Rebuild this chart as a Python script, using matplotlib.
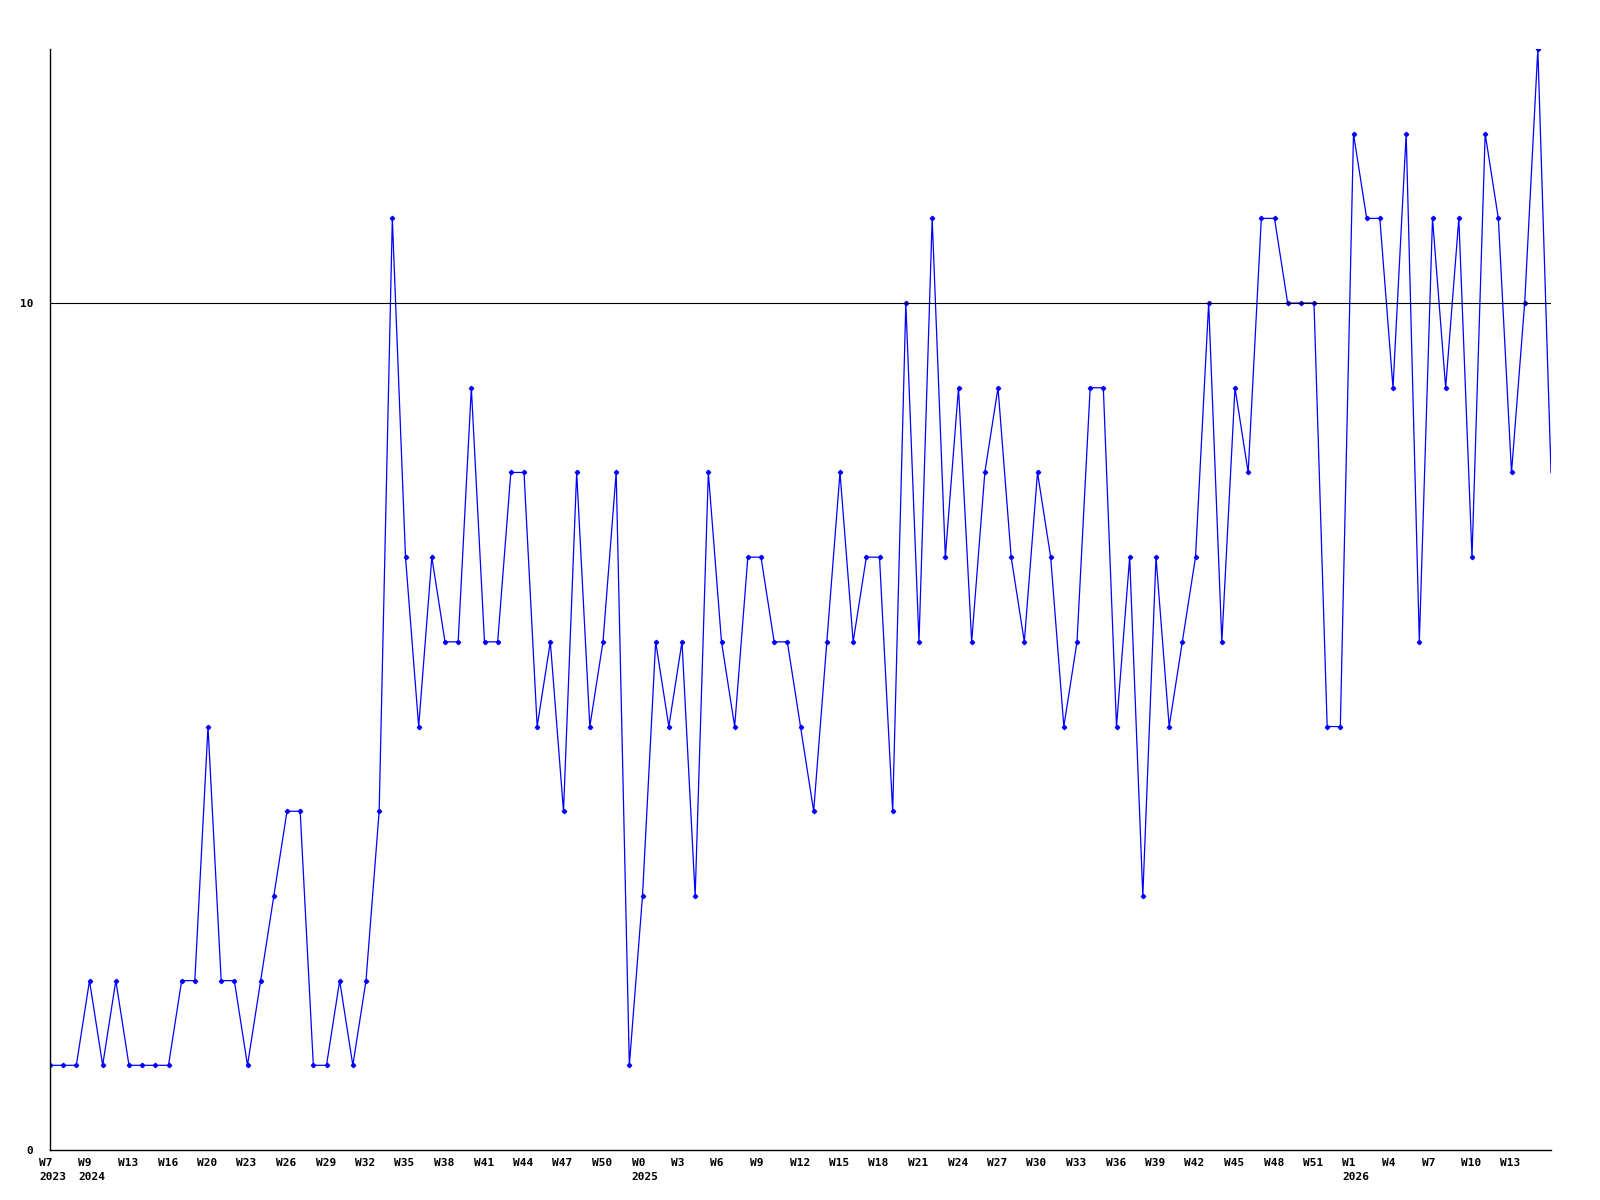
import matplotlib
matplotlib.use("Agg")
import matplotlib.pyplot as plt
import matplotlib.transforms as mtransforms

# weekly counts, one value per week
values = [
    1, 1, 1, 2, 1, 2, 1, 1, 1, 1, 2, 2, 5, 2, 2, 1, 2, 3, 4, 4,
    1, 1, 2, 1, 2, 4, 11, 7, 5, 7, 6, 6, 9, 6, 6, 8, 8, 5, 6, 4,
    8, 5, 6, 8, 1, 3, 6, 5, 6, 3, 8, 6, 5, 7, 7, 6, 6, 5, 4, 6,
    8, 6, 7, 7, 4, 10, 6, 11, 7, 9, 6, 8, 9, 7, 6, 8, 7, 5, 6, 9,
    9, 5, 7, 3, 7, 5, 6, 7, 10, 6, 9, 8, 11, 11, 10, 10, 10, 5, 5, 12,
    11, 11, 9, 12, 6, 11, 9, 11, 7, 12, 11, 8, 10, 13, 8,
]

# x labels, one every third week
week_labels = [
    "W7", "W9", "W13", "W16", "W20", "W23", "W26", "W29", "W32", "W35",
    "W38", "W41", "W44", "W47", "W50", "W0", "W3", "W6", "W9", "W12",
    "W15", "W18", "W21", "W24", "W27", "W30", "W33", "W36", "W39", "W42",
    "W45", "W48", "W51", "W1", "W4", "W7", "W10", "W13",
]
year_labels = {0: "2023", 1: "2024", 15: "2025", 33: "2026"}

reference = 10
y_ticks = [0, 10]

font = {"family": "DejaVu Sans Mono", "weight": "bold", "size": 8}

fig = plt.figure(figsize=(16, 12), dpi=100)
ax = fig.add_axes([50 / 1600, 50 / 1200, 1501 / 1600, 1101 / 1200])

x = list(range(len(values)))
ax.plot(x, values, color="#0000ff", linewidth=0.9, marker="D", markersize=2.2,
        markevery=slice(0, len(values) - 1), zorder=2)
ax.axhline(reference, color="black", linewidth=0.8, zorder=3)

ax.set_xlim(0, len(values) - 1)
ax.set_ylim(0, 13)

for side in ["top", "right"]:
    ax.spines[side].set_visible(False)
for side in ["left", "bottom"]:
    ax.spines[side].set_linewidth(1.0)
    ax.spines[side].set_color("black")

ax.set_yticks(y_ticks)
ax.set_yticklabels([str(t) for t in y_ticks], **font)
ax.tick_params(axis="y", length=0, pad=12)

ticks = [3 * i for i in range(len(week_labels))]
labels = []
for i, w in enumerate(week_labels):
    if i in year_labels:
        labels.append(w + "\n" + year_labels[i])
    else:
        labels.append(w)
ax.set_xticks(ticks)
ax.set_xticklabels(labels, ha="left", linespacing=1.4, **font)
ax.tick_params(axis="x", length=0, pad=6)
offset = mtransforms.ScaledTranslation(-11 / 100, 0, fig.dpi_scale_trans)
for lbl in ax.get_xticklabels():
    lbl.set_transform(lbl.get_transform() + offset)

fig.savefig("out.png", dpi=100, facecolor="white")
